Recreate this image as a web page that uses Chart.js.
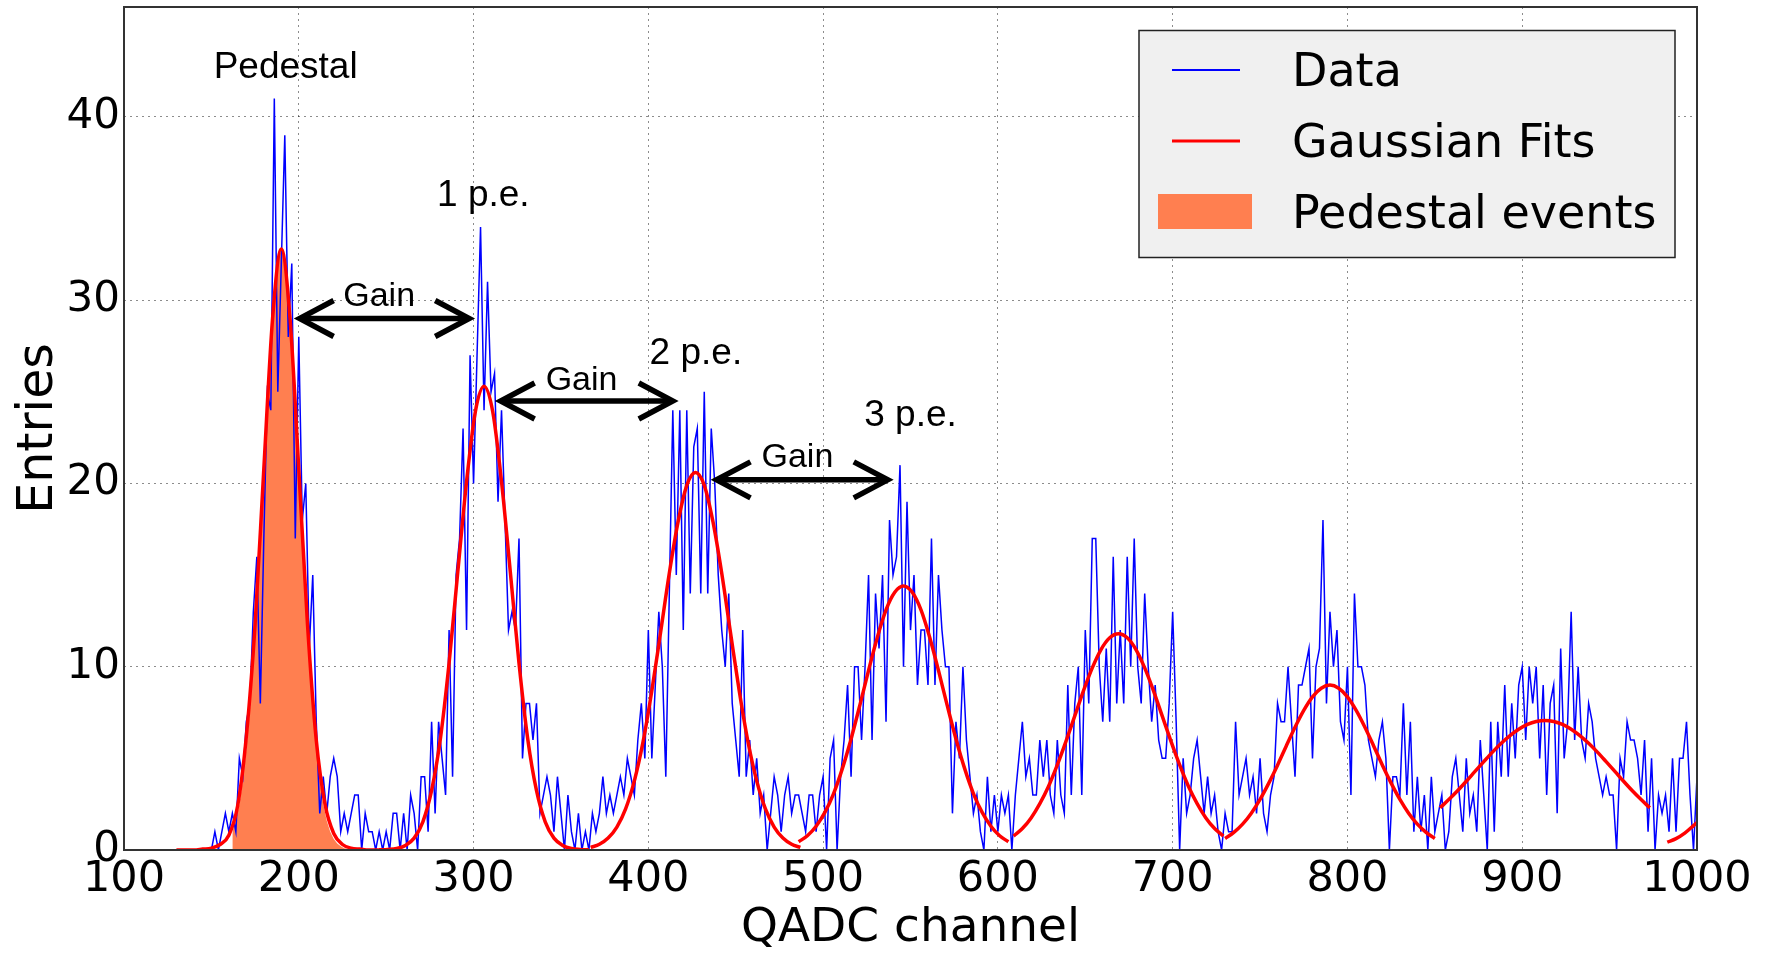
<!DOCTYPE html>
<html><head><meta charset="utf-8">
<script src="https://cdn.jsdelivr.net/npm/chart.js@4.4.1/dist/chart.umd.min.js"></script>
<style>html,body{margin:0;padding:0;background:#fff;overflow:hidden}#wrap{width:1772px;height:953px}</style>
</head><body><div id="wrap"><canvas id="c" width="1772" height="953"></canvas></div>
<script>
// ---- data ----
const firstChannel = 100;
const binWidth = 2;
const counts = [
 0,0,0,0,0,0,0,0,0,0,            // 100
 0,0,0,0,0,0,0,0,0,0,            // 120
 0,0,0,0,0,0,1,0,1,2,            // 140
 1,2,1,5,4,7,8,13,16,8,          // 160
 17,25,24,41,25,32,39,28,32,17,  // 180
 28,18,20,11,15,7,2,4,2,4,       // 200
 5,4,1,2,1,2,3,3,0,2,            // 220
 1,1,0,1,0,1,0,2,2,0,            // 240
 2,0,3,2,0,4,4,1,7,2,            // 260
 7,5,3,12,4,15,17,23,12,27,      // 280
 20,27,34,24,31,25,26,19,24,18,  // 300
 12,13,12,17,5,8,8,6,8,2,        // 320
 3,4,3,1,4,2,0,3,1,0,            // 340
 2,0,1,0,2,1,2,4,2,3,            // 360
 2,3,4,3,5,4,3,6,8,5,            // 380
 12,5,9,13,10,4,14,24,15,24,     // 400
 12,24,14,22,23,14,25,14,23,20,  // 420
 15,12,10,14,8,6,4,12,4,6,       // 440
 3,5,2,3,0,2,4,3,1,3,            // 460
 4,2,3,3,2,1,3,3,1,3,            // 480
 4,0,5,6,0,4,6,9,4,10,           // 500
 10,6,10,15,6,14,11,15,7,18,     // 520
 15,16,21,10,19,12,15,9,12,12,   // 540
 9,17,9,15,12,10,10,2,7,5,       // 560
 10,6,4,2,3,1,0,4,1,3,           // 580
 1,3,2,3,0,3,5,7,4,5,            // 600
 3,3,6,4,6,3,2,6,3,2,            // 620
 9,3,8,10,3,12,8,17,17,10,       // 640
 7,11,7,16,8,12,8,16,10,17,      // 660
 10,8,14,10,7,9,6,5,5,8,         // 680
 13,7,0,5,2,3,5,6,4,2,           // 700
 4,2,3,1,0,2,1,1,7,3,            // 720
 4,5,3,4,2,5,2,1,3,4,            // 740
 8,7,7,10,7,4,9,9,10,11,         // 760
 5,10,11,18,8,13,10,12,7,6,      // 780
 10,3,14,10,10,9,6,5,4,6,        // 800
 7,5,0,4,4,3,8,3,7,1,            // 820
 4,1,3,0,4,1,2,3,0,1,            // 840
 4,5,3,1,5,2,3,1,6,3,            // 860
 0,7,1,7,4,9,4,8,5,9,            // 880
 10,6,10,8,10,5,9,3,8,9,         // 900
 2,11,5,7,13,6,10,6,5,8,         // 920
 7,5,4,3,4,3,3,0,5,4,            // 940
 7,6,6,5,3,6,1,5,0,3,            // 960
 2,3,1,5,1,5,5,7,3,0,            // 980
 4                               // 1000
];
const pedestalStart = 162;
const pedestalCounts = [1.0,1.6,2.5,3.8,5.5,7.6,10.3,13.5,17.1,20.8,24.5,27.8,30.4,32.1,32.8,32.3,30.7,28.1,24.8,21.0,17.3,13.7,10.5,7.8,5.5,3.8,2.5,1.6,1.0,0.6,0.35,0.2,0.1,0.05];

const fitPedestal = [[130,0],[135,0],[140,0],[145,0.05],[150,0.1],[155,0.3],[160,0.8],[165,2.4],[170,6.2],[175,12.3],[180,20.8],[185,29.0],[190,32.8],[195,29.0],[200,20.8],[205,12.3],[210,6.0],[215,2.5],[220,0.9],[225,0.3],[230,0.1],[235,0.05],[240,0],[245,0],[250,0]];
const fit1pe = [[246,0.01],[251,0.03],[256,0.08],[261,0.25],[266,0.65],[271,1.54],[276,3.25],[281,6.06],[286,10.2],[291,15.2],[296,20.1],[301,23.9],[306,25.3],[311,23.9],[316,20.1],[321,15.2],[326,10.2],[331,6.06],[336,3.25],[341,1.54],[346,0.65],[351,0.25],[356,0.08],[361,0.03],[366,0.01]];
const fit2pe = [[367,0.14],[372,0.31],[377,0.65],[382,1.25],[387,2.24],[392,3.77],[397,5.91],[402,8.69],[407,11.87],[412,15.1],[417,17.9],[422,19.9],[427,20.6],[432,19.9],[437,17.9],[442,15.1],[447,11.87],[452,8.69],[457,5.91],[462,3.77],[467,2.24],[472,1.25],[477,0.65],[482,0.31],[487,0.14]];
const fit3pe = [[486,0.45],[491,0.78],[496,1.30],[501,2.05],[506,3.08],[511,4.44],[516,6.06],[521,7.89],[526,9.80],[531,11.6],[536,13.1],[541,14.06],[546,14.4],[551,14.06],[556,13.1],[561,11.6],[566,9.80],[571,7.89],[576,6.06],[581,4.44],[586,3.08],[591,2.05],[596,1.30],[601,0.78],[606,0.45]];
const fit4pe = [[609,0.76],[614,1.17],[619,1.75],[624,2.53],[629,3.48],[634,4.64],[639,5.94],[644,7.32],[649,8.70],[654,9.94],[659,10.94],[664,11.58],[669,11.8],[674,11.58],[679,10.94],[684,9.94],[689,8.70],[694,7.32],[699,5.94],[704,4.64],[709,3.48],[714,2.53],[719,1.75],[724,1.17],[729,0.76]];
const fit5pe = [[730,0.63],[735,0.96],[740,1.41],[745,2.01],[750,2.76],[755,3.65],[760,4.63],[765,5.68],[770,6.70],[775,7.62],[780,8.36],[785,8.83],[790,9.0],[795,8.83],[800,8.36],[805,7.62],[810,6.70],[815,5.68],[820,4.63],[825,3.65],[830,2.76],[835,2.01],[840,1.41],[845,0.96],[850,0.63]];
const fit6pe = [[853,2.30],[858,2.75],[863,3.23],[868,3.75],[873,4.29],[878,4.82],[883,5.34],[888,5.82],[893,6.24],[898,6.59],[903,6.85],[908,7.01],[913,7.07],[918,7.01],[923,6.85],[928,6.59],[933,6.24],[938,5.82],[943,5.34],[948,4.82],[953,4.29],[958,3.75],[963,3.23],[968,2.75],[973,2.30]];
const fit7pe = [[983,0.43],[988,0.62],[993,0.92],[998,1.33],[1000,1.5]];

const peakLabels = ['Pedestal', '1 p.e.', '2 p.e.', '3 p.e.'];
const peakLabelX = [192.5, 305.6, 427.2, 550];
const peakLabelY = [42.7, 35.7, 27.05, 23.67];
const gainText = 'Gain';
const gainFrom = [200.5, 315.5, 439];
const gainTo = [297.5, 414, 537];
const gainY = [29.0, 24.5, 20.2];
const gainLabelX = [246, 361.8, 485.3];
const gainLabelY = [30.2, 25.6, 21.4];

const xTickValues = [100,200,300,400,500,600,700,800,900,1000];
const xTickLabels = ['100','200','300','400','500','600','700','800','900','1000'];
const yTickValues = [0,10,20,30,40];
const yTickLabels = ['0','10','20','30','40'];

// ---- build datasets ----
const dataPoints = counts.map((c, i) => ({x: firstChannel + i * binWidth, y: c}));
const pedestalPoints = pedestalCounts.map((c, i) => ({x: pedestalStart + i * binWidth, y: c}));
const fitSegments = [fitPedestal, fit1pe, fit2pe, fit3pe, fit4pe, fit5pe, fit6pe, fit7pe];
const fitPoints = [];
fitSegments.forEach((seg, k) => {
  seg.forEach(p => fitPoints.push({x: p[0], y: p[1]}));
  if (k < fitSegments.length - 1) fitPoints.push({x: seg[seg.length - 1][0] + 0.5, y: null});
});

Chart.defaults.font.family = '"DejaVu Sans", sans-serif';
Chart.defaults.color = '#000';

const overlay = {
  id: 'overlay',
  afterDatasetsDraw(chart) {
    const {ctx, chartArea: a, scales: {x, y}} = chart;
    ctx.save();
    // frame
    ctx.strokeStyle = '#333'; ctx.lineWidth = 2;
    ctx.strokeRect(a.left, a.top, a.right - a.left, a.bottom - a.top);
    // peak labels
    ctx.fillStyle = '#000';
    ctx.font = '37px "Liberation Sans", Arial, sans-serif';
    ctx.textAlign = 'center'; ctx.textBaseline = 'middle';
    peakLabels.forEach((t, i) => ctx.fillText(t, x.getPixelForValue(peakLabelX[i]), y.getPixelForValue(peakLabelY[i])));
    // gain arrows
    ctx.strokeStyle = '#000'; ctx.lineWidth = 5.5; ctx.lineJoin = 'miter';
    for (let i = 0; i < gainFrom.length; i++) {
      const x1 = x.getPixelForValue(gainFrom[i]), x2 = x.getPixelForValue(gainTo[i]), yy = y.getPixelForValue(gainY[i]);
      ctx.beginPath(); ctx.moveTo(x1 + 2, yy); ctx.lineTo(x2 - 2, yy); ctx.stroke();
      ctx.beginPath(); ctx.moveTo(x1 + 34, yy - 18); ctx.lineTo(x1, yy); ctx.lineTo(x1 + 34, yy + 18); ctx.stroke();
      ctx.beginPath(); ctx.moveTo(x2 - 34, yy - 18); ctx.lineTo(x2, yy); ctx.lineTo(x2 - 34, yy + 18); ctx.stroke();
      ctx.font = '34px "Liberation Sans", Arial, sans-serif';
      ctx.fillText(gainText, x.getPixelForValue(gainLabelX[i]), y.getPixelForValue(gainLabelY[i]));
    }
    // legend
    const ds = chart.data.datasets;
    const bw = 536, bh = 227;
    const bx = a.right - 22 - bw, by = a.top + 23.5;
    ctx.fillStyle = '#f0f0f0'; ctx.fillRect(bx, by, bw, bh);
    ctx.strokeStyle = '#222'; ctx.lineWidth = 1.5; ctx.strokeRect(bx, by, bw, bh);
    const rowY = [by + 39.5, by + 110.5, by + 181.5];
    ctx.font = '46px "DejaVu Sans", sans-serif';
    ctx.textAlign = 'left';
    ctx.strokeStyle = ds[1].borderColor; ctx.lineWidth = 2;
    ctx.beginPath(); ctx.moveTo(bx + 33, rowY[0]); ctx.lineTo(bx + 101, rowY[0]); ctx.stroke();
    ctx.strokeStyle = ds[0].borderColor; ctx.lineWidth = 3;
    ctx.beginPath(); ctx.moveTo(bx + 33, rowY[1]); ctx.lineTo(bx + 101, rowY[1]); ctx.stroke();
    ctx.fillStyle = ds[2].backgroundColor;
    ctx.fillRect(bx + 19, rowY[2] - 18, 94, 35);
    ctx.fillStyle = '#000';
    ctx.fillText(ds[1].label, bx + 153, rowY[0] + 4);
    ctx.fillText(ds[0].label, bx + 153, rowY[1] + 4);
    ctx.fillText(ds[2].label, bx + 153, rowY[2] + 4);
    ctx.restore();
  }
};

new Chart(document.getElementById('c'), {
  type: 'line',
  data: {
    datasets: [
      {label: 'Gaussian Fits', data: fitPoints, borderColor: '#ff0000', borderWidth: 3.5, pointRadius: 0, fill: false, spanGaps: false, cubicInterpolationMode: 'monotone'},
      {label: 'Data', data: dataPoints, borderColor: '#0000ff', borderWidth: 1.5, pointRadius: 0, fill: false, tension: 0},
      {label: 'Pedestal events', data: pedestalPoints, borderColor: 'rgba(0,0,0,0)', borderWidth: 0, backgroundColor: '#ff7f50', pointRadius: 0, fill: 'origin', tension: 0}
    ]
  },
  options: {
    responsive: false,
    devicePixelRatio: 1,
    animation: false,
    events: [],
    layout: {padding: {top: 7, right: 75, left: 0, bottom: 0}},
    plugins: {legend: {display: false}, tooltip: {enabled: false}},
    scales: {
      x: {
        type: 'linear', min: 100, max: 1000,
        afterBuildTicks: s => { s.ticks = xTickValues.map(v => ({value: v})); },
        afterFit: s => { s.height = 103; s.paddingLeft = 0; s.paddingRight = 0; },
        ticks: {font: {size: 43}, padding: 4, color: '#000', maxRotation: 0, autoSkip: false,
                callback: (v) => xTickLabels[xTickValues.indexOf(v)] ?? String(v)},
        grid: {color: 'rgba(0,0,0,0.45)', lineWidth: 1, drawTicks: false},
        border: {display: false, dash: [2, 4]},
        title: {display: true, text: 'QADC channel', font: {size: 47, lineHeight: 1.0}, padding: {top: 0, bottom: 1}}
      },
      y: {
        type: 'linear', min: 0, max: 46,
        afterBuildTicks: s => { s.ticks = yTickValues.map(v => ({value: v})); },
        afterFit: s => { s.width = 124; s.paddingTop = 0; s.paddingBottom = 0; },
        ticks: {font: {size: 42}, padding: 4, color: '#000',
                callback: (v) => yTickLabels[yTickValues.indexOf(v)] ?? String(v)},
        grid: {color: 'rgba(0,0,0,0.45)', lineWidth: 1, drawTicks: false},
        border: {display: false, dash: [2, 4]},
        title: {display: true, text: 'Entries', font: {size: 49, lineHeight: 1.2}, padding: {top: 10, bottom: 0}}
      }
    }
  },
  plugins: [overlay]
});
</script>
</body></html>
